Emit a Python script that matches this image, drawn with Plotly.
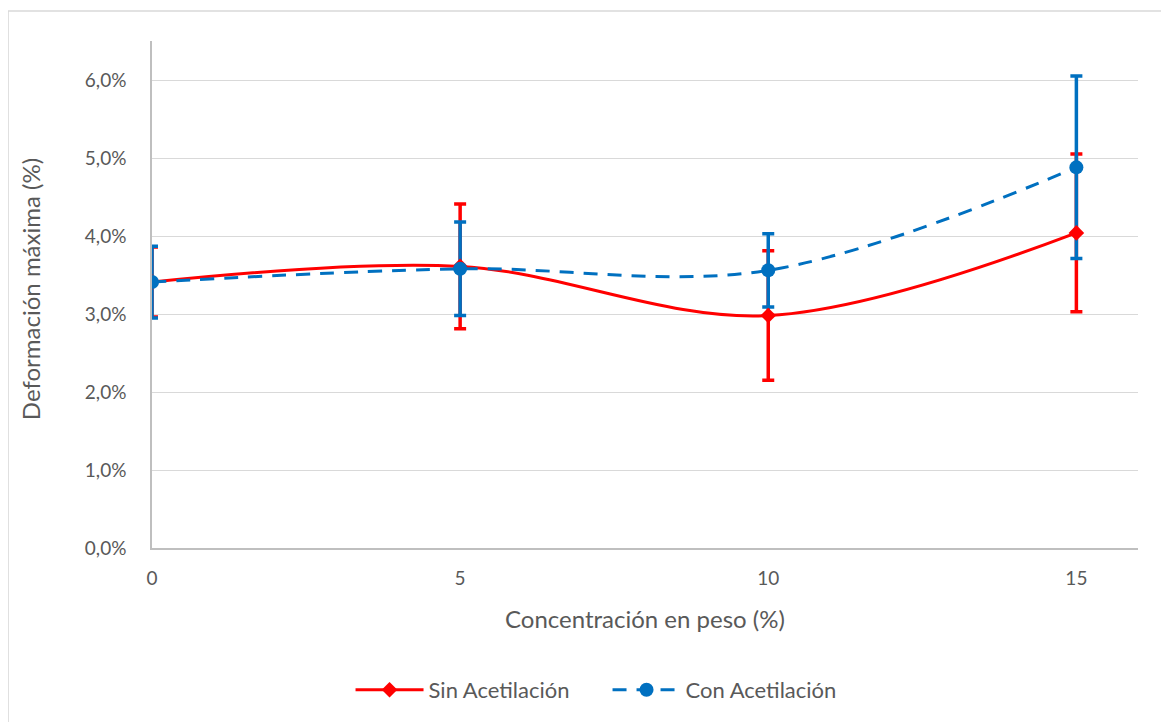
import plotly.graph_objects as go

# Data
concentracion = [0, 5, 10, 15]
sin_acet = [0.0341, 0.0361, 0.0298, 0.0404]
sin_err = [0.0045, 0.0080, 0.0083, 0.0101]
con_acet = [0.0341, 0.0358, 0.0356, 0.0488]
con_err = [0.0046, 0.0060, 0.0047, 0.0117]
y_ticks = [0, 0.01, 0.02, 0.03, 0.04, 0.05, 0.06]
x_ticks = [0, 5, 10, 15]

RED = "#FF0000"
BLUE = "#0070C0"
TXT = "#595959"
FONT = "Lato"

fig = go.Figure()

# error bars underneath lines
fig.add_trace(go.Scatter(
    x=concentracion, y=sin_acet, mode="markers",
    marker=dict(size=1, color="rgba(0,0,0,0)"),
    error_y=dict(type="data", array=sin_err, color=RED, thickness=3.5, width=6),
    showlegend=False, hoverinfo="skip"))
fig.add_trace(go.Scatter(
    x=concentracion, y=con_acet, mode="markers",
    marker=dict(size=1, color="rgba(0,0,0,0)"),
    error_y=dict(type="data", array=con_err, color=BLUE, thickness=3.5, width=6),
    showlegend=False, hoverinfo="skip"))

fig.add_trace(go.Scatter(
    x=concentracion, y=sin_acet, mode="lines+markers", name="Sin Acetilación",
    line=dict(color=RED, width=3, shape="spline", smoothing=1),
    marker=dict(symbol="diamond", size=12, color=RED)))
fig.add_trace(go.Scatter(
    x=concentracion, y=con_acet, mode="lines+markers", name="Con Acetilación",
    line=dict(color=BLUE, width=3, dash="14px,10px", shape="spline", smoothing=1),
    marker=dict(symbol="circle", size=14, color=BLUE)))

fig.update_layout(
    width=1161, height=714,
    margin=dict(l=144, r=31, t=33, b=173),
    paper_bgcolor="white", plot_bgcolor="white",
    separators=",.",
    font=dict(family=FONT, color=TXT, size=19),
    xaxis=dict(range=[0, 16], tickvals=x_ticks, showgrid=False, zeroline=False,
               showline=True, linecolor="#BFBFBF", linewidth=1.5, ticks="",
               ticklabelstandoff=12, tickfont=dict(size=19, color=TXT)),
    yaxis=dict(range=[0, 0.065], tickvals=y_ticks, tickformat=".1%",
               showgrid=True, gridcolor="#D9D9D9", gridwidth=1.3, zeroline=False,
               showline=True, linecolor="#BFBFBF", linewidth=1.5, ticks="",
               ticklabelstandoff=20, tickfont=dict(size=19, color=TXT)),
    legend=dict(orientation="h", x=0.462, xanchor="center", y=-0.2776, yanchor="middle",
                font=dict(size=22, color=TXT), itemwidth=68,
                entrywidth=174, entrywidthmode="pixels"),
    showlegend=True,
)

fig.add_annotation(text="Concentración en peso (%)", xref="paper", yref="paper",
                   x=0.5, y=-0.1398, xanchor="center", yanchor="middle",
                   showarrow=False, font=dict(size=24, color=TXT, family=FONT))
fig.add_annotation(text="Deformación máxima (%)", xref="paper", yref="paper",
                   x=-0.123, y=0.51, xanchor="center", yanchor="middle", textangle=-90,
                   showarrow=False, font=dict(size=24, color=TXT, family=FONT))

# outer chart border
fig.add_shape(type="rect", xref="paper", yref="paper",
              x0=-0.146, x1=1.2, y0=-0.6, y1=1.059,
              line=dict(color="#D9D9D9", width=1.5), fillcolor="rgba(0,0,0,0)", layer="below")

fig.write_html("out.html")
